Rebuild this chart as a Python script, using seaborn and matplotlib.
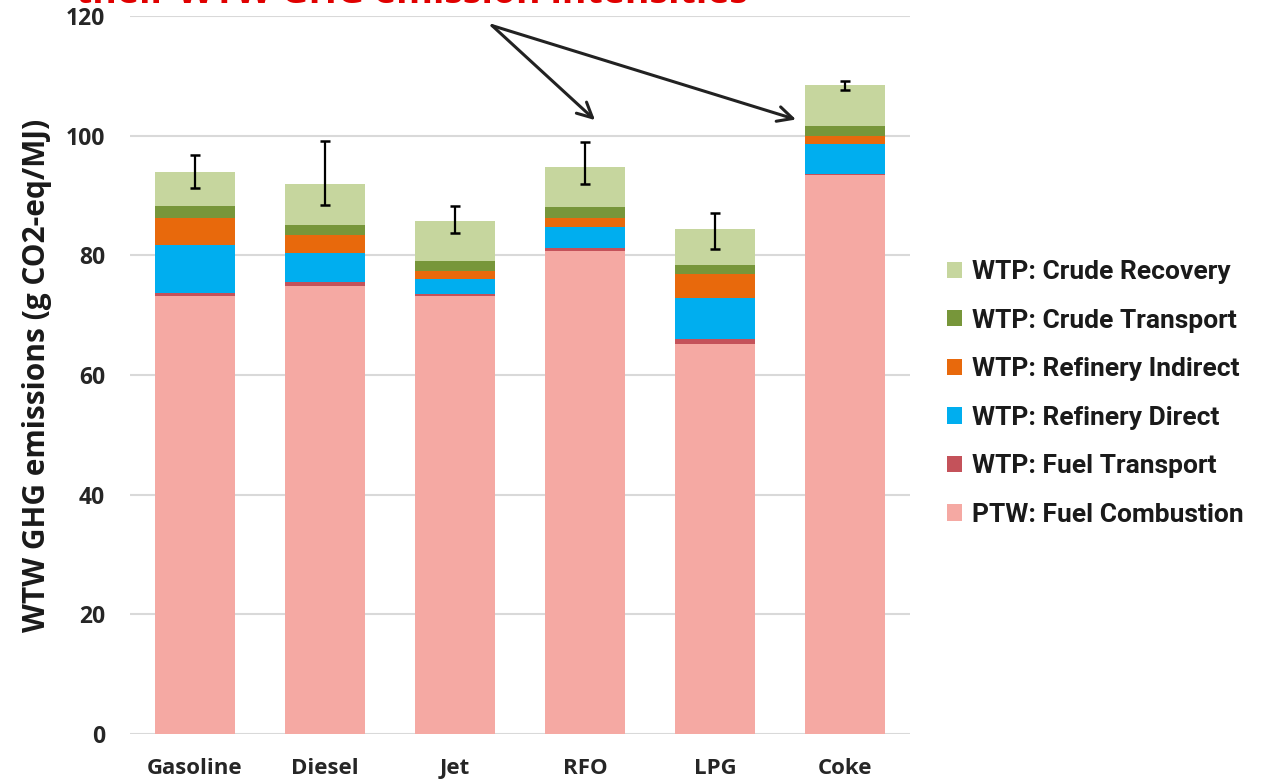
import matplotlib
matplotlib.use("Agg")
import matplotlib.pyplot as plt
from matplotlib.patches import Patch
import numpy as np
import pandas as pd
import seaborn as sns

# Fuels and their well-to-wheel GHG components (g CO2-eq/MJ)
categories = ["Gasoline", "Diesel", "Jet", "RFO", "LPG", "Coke"]
fuel_combustion = [73.2, 74.8, 73.2, 80.8, 65.1, 93.4]
fuel_transport = [0.5, 0.7, 0.3, 0.4, 1.0, 0.2]
refinery_direct = [8.0, 4.9, 2.6, 3.6, 6.8, 5.0]
refinery_indirect = [4.6, 3.0, 1.2, 1.4, 4.0, 1.4]
crude_transport = [1.9, 1.6, 1.8, 1.8, 1.5, 1.6]
crude_recovery = [5.8, 6.9, 6.6, 6.7, 6.0, 6.9]

# Uncertainty range of the total
err_low = [91.3, 88.4, 83.7, 92.0, 81.0, 107.6]
err_high = [96.8, 99.1, 88.2, 98.9, 87.1, 109.1]

series_labels = ["PTW: Fuel Combustion", "WTP: Fuel Transport", "WTP: Refinery Direct",
                 "WTP: Refinery Indirect", "WTP: Crude Transport", "WTP: Crude Recovery"]
series_values = [fuel_combustion, fuel_transport, refinery_direct,
                 refinery_indirect, crude_transport, crude_recovery]
series_colors = ["#F5A9A3", "#C4525A", "#00AEEF", "#E8690C", "#77963A", "#C6D69E"]

y_ticks = [0, 20, 40, 60, 80, 100, 120]

title_text = "their WTW GHG emission intensities"
ylabel_text = "WTW GHG emissions (g CO2-eq/MJ)"

sns.set_theme(style="white")
plt.rcParams["font.family"] = ["Open Sans", "DejaVu Sans"]

# cumulative stack heights, drawn tallest first so lower layers sit on top
cum = np.cumsum(np.array(series_values), axis=0)
frames = []
for lab, c in zip(series_labels, cum):
    frames.append(pd.DataFrame({"fuel": categories, "layer": lab, "top": c}))
df = pd.concat(frames, ignore_index=True)

fig = plt.figure(figsize=(12.62, 7.81), dpi=100)
ax = fig.add_axes([0.1030, 0.0602, 0.6181, 0.9193])

for lab, col in reversed(list(zip(series_labels, series_colors))):
    sub = df[df["layer"] == lab]
    sns.barplot(data=sub, x="fuel", y="top", order=categories, color=col,
                saturation=1, width=0.62, errorbar=None, linewidth=0,
                ax=ax, zorder=2)

totals = cum[-1]
xpos = np.arange(len(categories))
yerr = np.vstack([totals - np.array(err_low), np.array(err_high) - totals])
ax.errorbar(xpos, totals, yerr=yerr, fmt="none", ecolor="black",
            elinewidth=1.6, capsize=3.5, capthick=1.8, zorder=4)

ax.set_xlim(-0.5, len(categories) - 0.5)
ax.set_ylim(0, 120)
ax.set_yticks(y_ticks)
ax.set_axisbelow(True)
ax.grid(axis="y", color="#D9D9D9", linewidth=1.5)
ax.grid(axis="x", visible=False)
for s in ax.spines.values():
    s.set_visible(False)
ax.tick_params(axis="both", length=0)
ax.tick_params(axis="y", pad=18, labelsize=16.5, labelcolor="#262626")
ax.tick_params(axis="x", pad=17, labelsize=16, labelcolor="#262626")
for t in ax.get_xticklabels() + ax.get_yticklabels():
    t.set_fontweight("bold")
ax.set_xlabel("")
ax.set_ylabel("")

fig.text(37 / 1262, 1 - 375 / 781, ylabel_text, rotation=90, ha="center",
         va="center", fontsize=21.5, fontweight="bold", color="#1a1a1a")

# slide heading running off the top edge
fig.text(76 / 1262, 1 - 3 / 781, title_text, ha="left", va="baseline",
         fontsize=27, fontweight="bold", color="#E00000")

# arrows pointing from the heading to RFO and Coke
arrow_src = (2.285, 118.4)
arrow_tips = [(3.077, 102.6), (4.623, 102.7)]
for tip in arrow_tips:
    ax.annotate("", xy=tip, xytext=arrow_src,
                arrowprops=dict(arrowstyle="->,head_length=0.9,head_width=0.45",
                                color="#222222", lw=2.2, shrinkA=0, shrinkB=0),
                annotation_clip=False, zorder=5)

handles = [Patch(facecolor=c, edgecolor="none", label=l)
           for l, c in zip(series_labels, series_colors)][::-1]
leg = fig.legend(handles=handles, loc="center left",
                 bbox_to_anchor=(947 / 1262, 1 - 393.4 / 781),
                 frameon=False, borderpad=0, borderaxespad=0,
                 handlelength=0.58, handleheight=0.58, handletextpad=0.35,
                 labelspacing=0.93,
                 prop={"family": ["Roboto", "DejaVu Sans"], "weight": "bold", "size": 19})
for t in leg.get_texts():
    t.set_color("#1a1a1a")

fig.savefig("out.png", dpi=100)
